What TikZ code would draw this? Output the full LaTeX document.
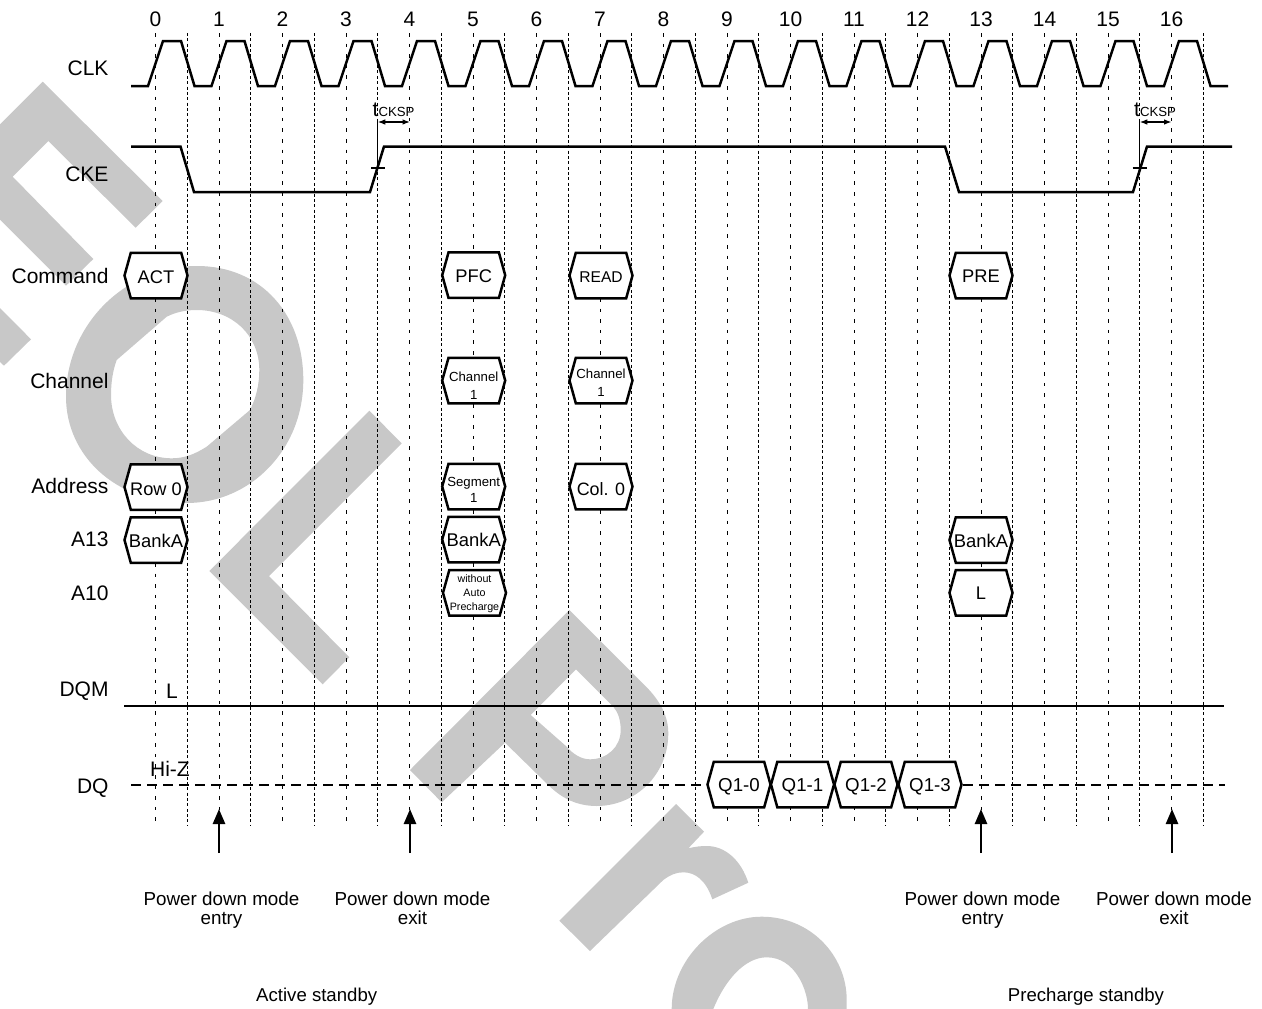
\documentclass[tikz,border=0pt]{standalone}
\usepackage{fontspec}
\setmainfont{Liberation Sans}
\usetikzlibrary{shapes.symbols,arrows.meta}
\definecolor{wm}{RGB}{200,200,200}
\newcommand{\fs}[1]{\fontsize{#1pt}{#1pt}\selectfont}
% \hx{name}{x}{y}{raise}{size}{leading}{text}
\newcommand{\hx}[7]{\node[hexbox] (#1) at (#2,#3) {\makebox[0pt]{\raisebox{#4pt}[0pt][0pt]{\fontsize{#5pt}{#6pt}\selectfont\begin{tabular}[t]{@{}c@{}}#7\end{tabular}}}};}
\tikzset{
  hexbox/.style={shape=signal, signal to=east and west, signal from=nowhere, signal pointer angle=149,
    minimum width=63pt, minimum height=45.5pt, inner sep=0pt, outer sep=0pt, draw=black, fill=white, line width=2.5pt},
  wave/.style={line width=2.5pt, line join=miter, draw=black},
  halfgrid/.style={line width=1pt, draw=black, dash pattern=on 3pt off 2.35pt},
  intgrid/.style={line width=1pt, draw=black, dash pattern=on 3.5pt off 7.1pt},
  rowlabel/.style={anchor=base east, font=\fs{21}, inner sep=0pt},
  toplabel/.style={anchor=base, font=\fs{21}, inner sep=0pt},
  inlabel/.style={anchor=base, font=\fs{21}, inner sep=0pt},
  notelabel/.style={anchor=base, font=\fontsize{18.8pt}{19pt}\selectfont, align=center, inner sep=0pt},
  standlabel/.style={anchor=base, font=\fs{18.6}, inner sep=0pt},
  tlabel/.style={anchor=base west, font=\fs{21}, inner sep=0pt},
  modearrow/.style={line width=2.5pt, draw=black, -{Triangle[length=15pt,width=12pt]}},
  spanarrow/.style={line width=1.2pt, draw=black, {Latex[length=7.5pt,width=5.6pt]}-{Latex[length=7.5pt,width=5.6pt]}},
  thinline/.style={line width=1.3pt, draw=black},
}
\begin{document}
\begin{tikzpicture}[x=1pt,y=-1pt]
\useasboundingbox (0,0) rectangle (1262,1009);
\fill[white] (0,0) rectangle (1262,1009);
% watermark
\fill[wm] (0,124.4) -- (42.7,81.7) -- (162.7,201) -- (135.7,227.7) -- (48.3,141) -- (12.7,176.7) -- (93.3,259) -- (66,285.7) -- (0,219.7) -- cycle;
\fill[wm] (0,308) -- (31,339.3) -- (4,365.7) -- (0,362) -- cycle;
\fill[wm,even odd rule] (196.7,266) .. controls (262,266) and (303.3,315) .. (303.3,380) .. controls (303.3,450) and (250,503) .. (186.7,503) .. controls (115,503) and (66,455) .. (66,396.7) .. controls (66,325) and (125,266) .. (196.7,266) -- cycle
 (196.7,310) .. controls (232,310) and (259.3,335) .. (259.3,370) .. controls (259.3,385) and (256,398) .. (250,410) -- (206.7,446.7) .. controls (195,454) and (185,458.3) .. (171.7,458.3) .. controls (137,458.3) and (111,430) .. (111,395) .. controls (111,382) and (113,370) .. (116.7,360) -- (166.7,316.7) .. controls (176,312) and (186,310) .. (196.7,310) -- cycle;
\fill[wm] (369.3,410.7) -- (401.7,443.3) -- (269,576) -- (349.3,657.3) -- (322.7,684.3) -- (209.3,571) -- cycle;
\fill[wm,even odd rule] (569.3,610) -- (646.7,687.3) .. controls (661,702) and (668.3,717) .. (668.3,733.3) .. controls (668.3,775) and (635,806) .. (596.7,806) .. controls (578,806) and (563,799) .. (550,786.7) -- (505,742.7) -- (441.7,802.3) -- (410,770) -- cycle
 (576,669.3) -- (613.3,706.7) .. controls (618,712) and (620.7,720) .. (620.7,730) .. controls (620.7,747) and (607,759.3) .. (590,759.3) .. controls (581,759.3) and (573,754) .. (566.7,746.7) -- (530.7,715) -- cycle;
\fill[wm] (676,804) -- (704,831.7) -- (688.3,848.3) .. controls (696,846.5) and (701,846) .. (706.7,846) .. controls (725,846) and (741,860) .. (748.3,882.7) -- (712.3,899.3) .. controls (706,880) and (695,872.3) .. (683.3,872.3) .. controls (676,872.3) and (670,875) .. (663.3,880) -- (590,951) -- (559.3,920.7) -- cycle;
\fill[wm] (671.7,1009) .. controls (671.7,960) and (715,916.7) .. (761.7,916.7) .. controls (810,916.7) and (846.7,955) .. (846.7,1000) -- (846.7,1009) -- (808,1009) .. controls (808,990) and (795,957.3) .. (766.7,957.3) .. controls (745,957.3) and (725,980) .. (713.3,1009) -- cycle;
% grid
\foreach \k in {0,...,16} {
  \draw[intgrid] ({155.5+63.5*\k},33) -- ({155.5+63.5*\k},825);
  \draw[halfgrid] ({187.25+63.5*\k},33) -- ({187.25+63.5*\k},825);
  \pgfmathsetmacro{\xx}{155.5+63.5*\k}
  \node[toplabel] (n\k) at (\xx,26.5) {\k};
}
% row labels
\node[rowlabel] (lclk) at (108.7,75) {CLK};
\node[rowlabel] (lcke) at (108.7,181) {CKE};
\node[rowlabel] (lcmd) at (108.7,283.3) {Command};
\node[rowlabel] (lch) at (108.7,388.3) {Channel};
\node[rowlabel] (laddr) at (108.7,493.5) {Address};
\node[rowlabel] (la13) at (108.7,546) {A13};
\node[rowlabel] (la10) at (108.7,600) {A10};
\node[rowlabel] (ldqm) at (108.7,696) {DQM};
\node[rowlabel] (ldq) at (108.7,793) {DQ};
% CLK
\draw[wave] (131,86) foreach \k in {0,...,16} {-- ({148+63.5*\k},86) -- ({163+63.5*\k},41) -- ({181+63.5*\k},41) -- ({194.5+63.5*\k},86)} -- (1228,86);
% CKE
\draw[wave] (131,146.5) -- (180.5,146.5) -- (194,192) -- (370,192) -- (384,146.5) -- (945,146.5) -- (959,192) -- (1133,192) -- (1147,146.5) -- (1232,146.5);
% tCKSP
\coordinate (ta) at (377.75,122); \coordinate (tb) at (410,122); \coordinate (tc) at (377.75,168);
\draw[thinline] (ta) -- (tc);
\draw[thinline] (371,168) -- (385,168);
\draw[spanarrow] (ta) -- (tb);
\node[tlabel] (tl1) at (372.5,116) {t{\fs{13.2}CKSP}};
\coordinate (ua) at (1139.75,122); \coordinate (ub) at (1171.5,122); \coordinate (uc) at (1139.75,168);
\draw[thinline] (ua) -- (uc);
\draw[thinline] (1132.5,168) -- (1146.5,168);
\draw[spanarrow] (ua) -- (ub);
\node[tlabel] (tl2) at (1134,116) {t{\fs{13.2}CKSP}};
% DQM, DQ
\draw[wave] (124,706) -- (1224,706);
\node[inlabel] (ll) at (172,698.5) {L};
\draw[wave,dash pattern=on 10pt off 6pt] (131,785) -- (1225,785);
\node[inlabel] (hiz) at (170,776) {Hi-Z};
% hexagons
\hx{act}{156}{275.5}{-7.5}{18.3}{18}{ACT}
\hx{pfc}{473.7}{275.2}{-7}{18.3}{18}{PFC}
\hx{read}{601}{275.5}{-7.2}{15.6}{18}{READ}
\hx{pre}{981}{275.5}{-7}{18.3}{18}{PRE}
\hx{ch1}{473.7}{380.5}{-0.5}{13.2}{18}{Channel\\1}
\hx{ch2}{601}{380.5}{1.8}{13.2}{18}{Channel\\1}
\hx{row}{156}{487}{-8.7}{18.2}{18}{Row 0}
\hx{seg}{473.7}{486.5}{0}{13.2}{16}{Segment\\1}
\hx{col}{601}{486.5}{-9}{17.9}{18}{Col. 0}
\hx{bk1}{156}{540}{-7.3}{18.4}{18}{BankA}
\hx{bk2}{473.7}{539.5}{-6.5}{18.4}{18}{BankA}
\hx{bk3}{981}{540}{-7}{18.4}{18}{BankA}
\hx{wa}{474.5}{592.8}{10.8}{10.7}{14}{without\\Auto\\Precharge}
\hx{ll2}{981}{592.8}{-7}{18.3}{18}{L}
\hx{q0}{739}{784.5}{-7}{18.7}{18}{Q1-0}
\hx{q1}{802.5}{784.5}{-7}{18.7}{18}{Q1-1}
\hx{q2}{866}{784.5}{-7}{18.7}{18}{Q1-2}
\hx{q3}{930}{784.5}{-7}{18.7}{18}{Q1-3}
% mode arrows
\foreach \nm/\x in {a/219,b/410,c/981,d/1172} {
  \coordinate (\nm0) at (\x,853); \coordinate (\nm1) at (\x,809);
  \draw[modearrow] (\nm0) -- (\nm1);
}
\node[notelabel,anchor=base] (m1) at (221.5,924) {Power down mode\\entry};
\node[notelabel,anchor=base] (m2) at (412.5,924) {Power down mode\\exit};
\node[notelabel,anchor=base] (m3) at (982.5,924) {Power down mode\\entry};
\node[notelabel,anchor=base] (m4) at (1174,924) {Power down mode\\exit};
\node[standlabel] (s1) at (316.7,1001.7) {Active standby};
\node[standlabel] (s2) at (1086,1001.7) {Precharge standby};
\end{tikzpicture}
\end{document}
